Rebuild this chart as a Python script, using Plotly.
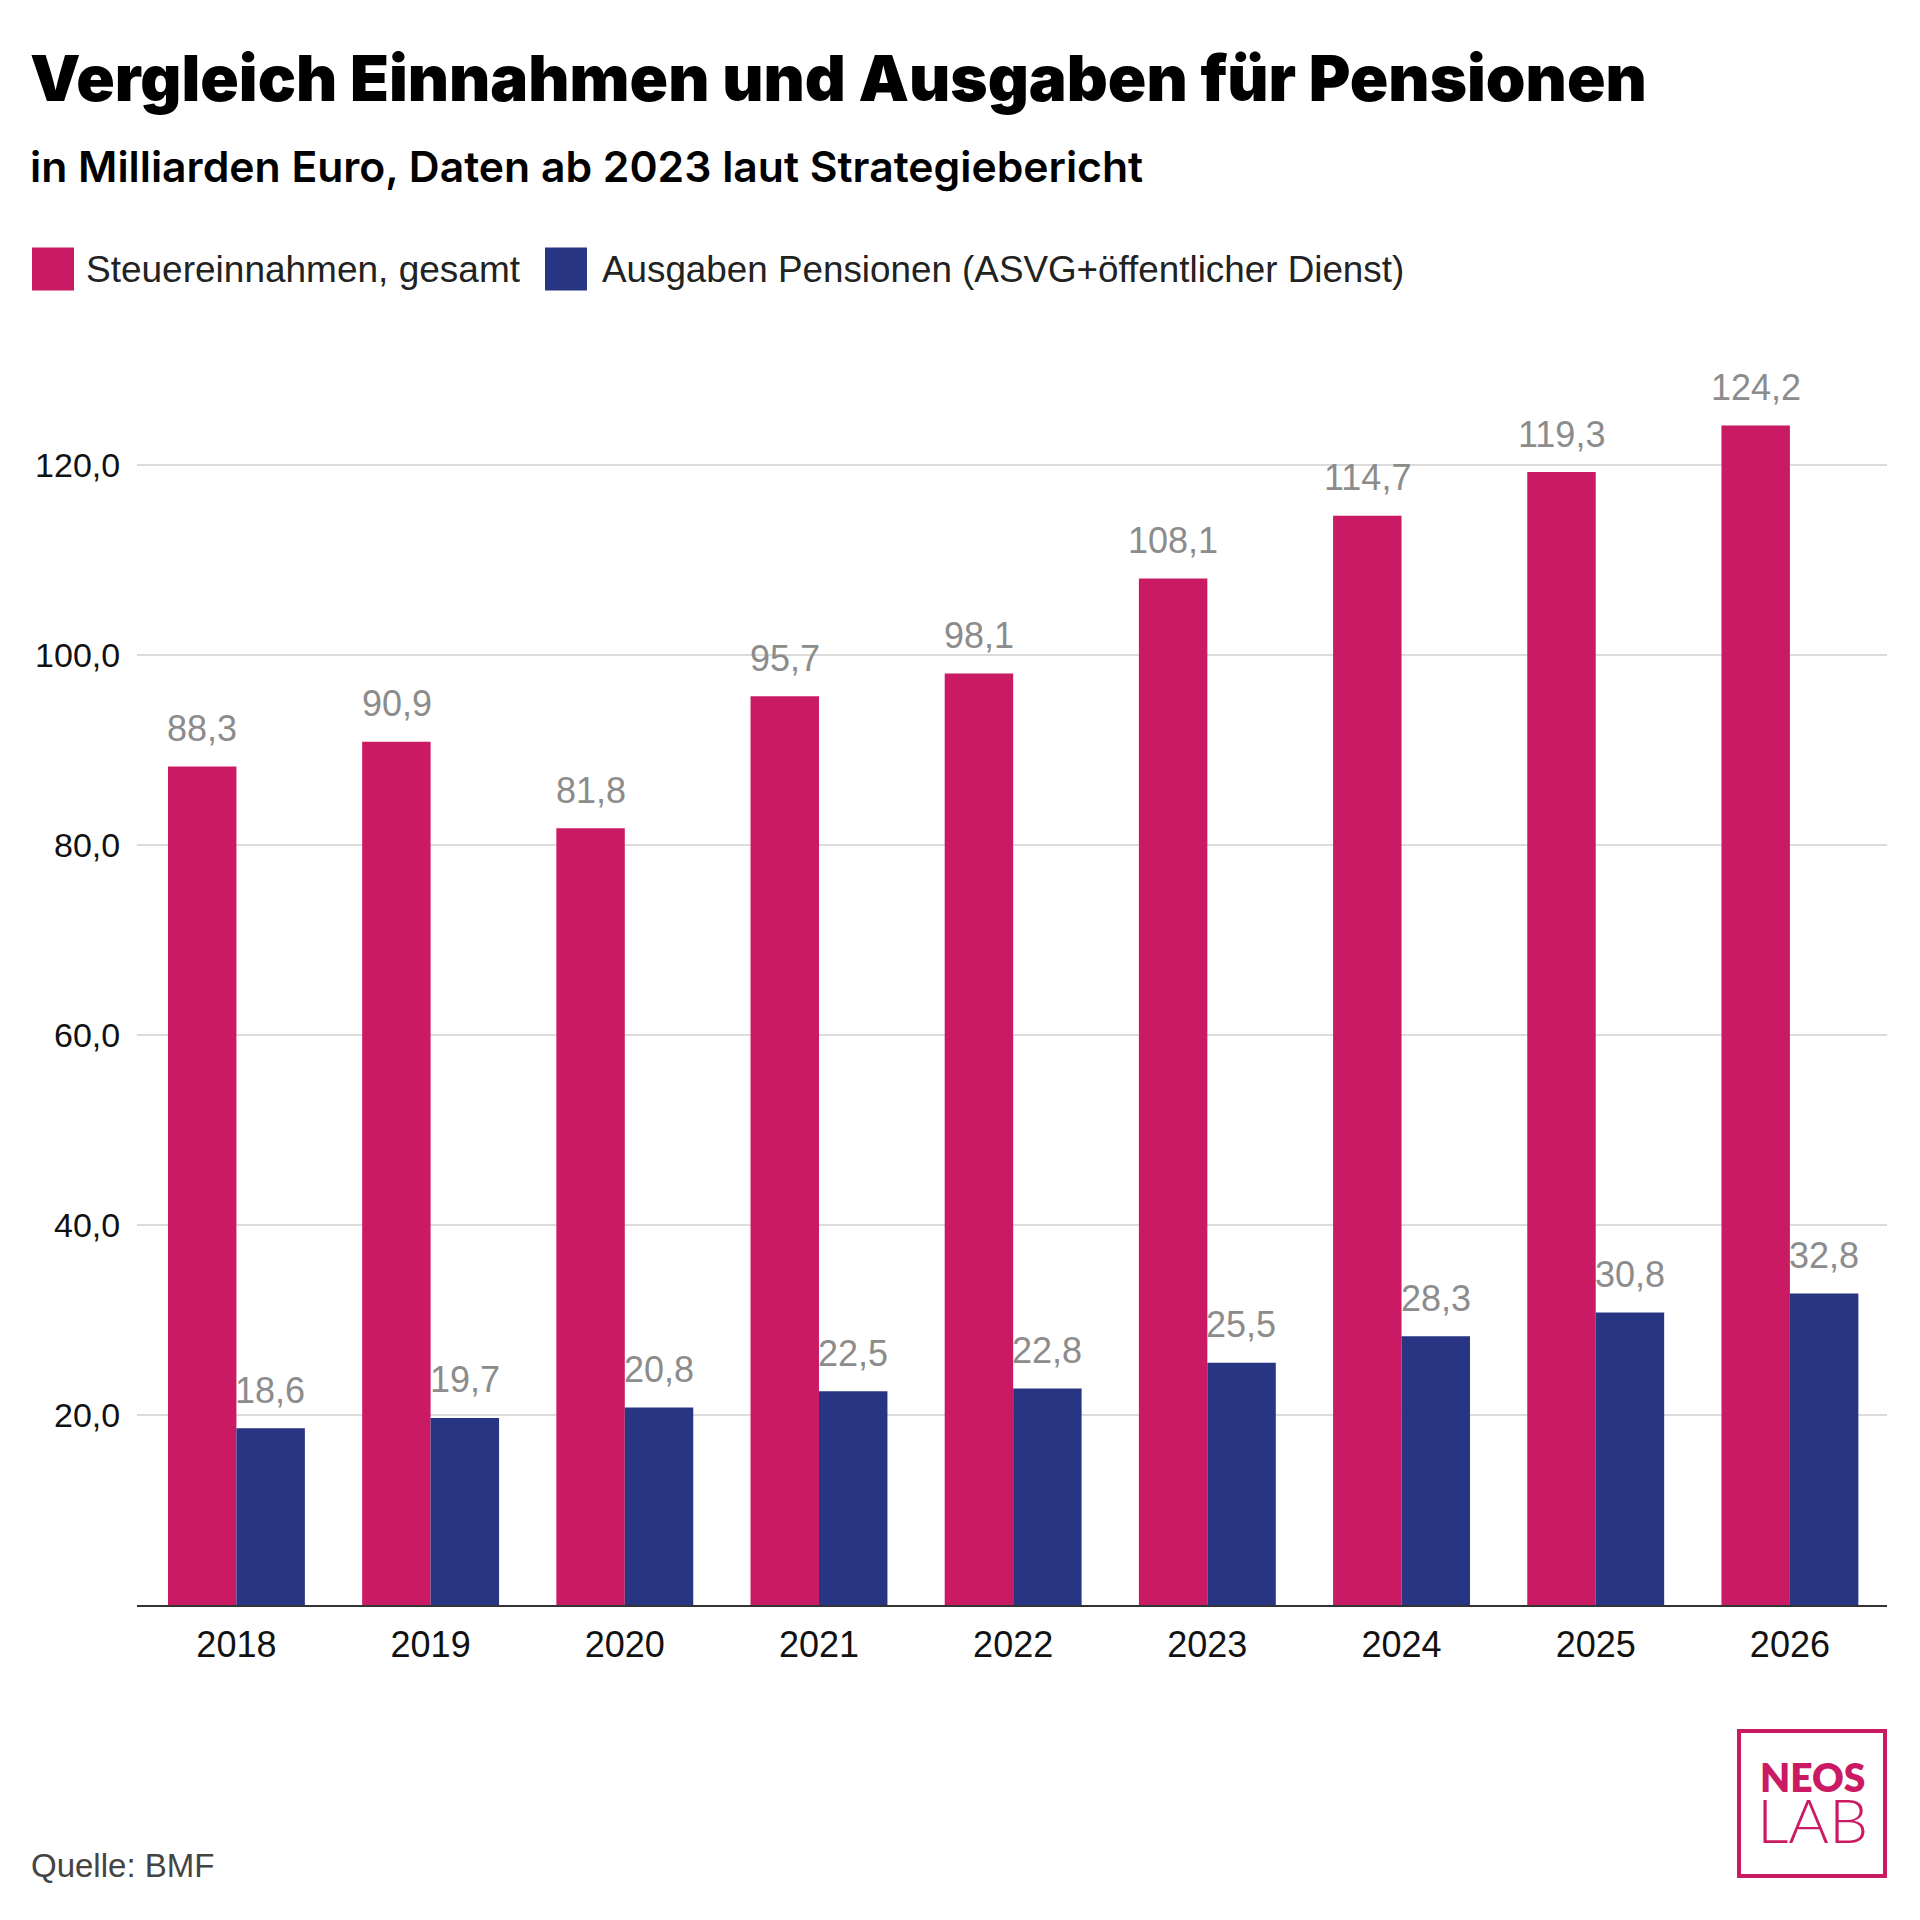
import plotly.graph_objects as go

years = ["2018", "2019", "2020", "2021", "2022", "2023", "2024", "2025", "2026"]
steuereinnahmen = [88.3, 90.9, 81.8, 95.7, 98.1, 108.1, 114.7, 119.3, 124.2]
pensionen = [18.6, 19.7, 20.8, 22.5, 22.8, 25.5, 28.3, 30.8, 32.8]
y_ticks = [20, 40, 60, 80, 100, 120]

PINK = "#CB1A64"
BLUE = "#283583"
FONT = "Liberation Sans"

# plot area in page pixels
LEFT, RIGHT, TOP, BOTTOM = 137, 1887, 322.5, 1605


def px_x(x):
    return (x - LEFT) / (RIGHT - LEFT)


def px_y(y):
    return (BOTTOM - y) / (BOTTOM - TOP)


def add_text(fig, x, y, text, size, color="#000000", weight=400, family=FONT, xanchor="left"):
    fig.add_annotation(
        xref="paper", yref="paper", x=px_x(x), y=px_y(y), text=text, showarrow=False,
        xanchor=xanchor, yanchor="middle", borderpad=0,
        font=dict(family=family, size=size, color=color, weight=weight),
    )


def add_box(fig, x0, y0, x1, y1, fill=None, line=None, width=0):
    fig.add_shape(
        type="rect", xref="paper", yref="paper",
        x0=px_x(x0), x1=px_x(x1), y0=px_y(y0), y1=px_y(y1),
        fillcolor=fill if fill else "rgba(0,0,0,0)",
        line=dict(color=line if line else "rgba(0,0,0,0)", width=width),
    )


fig = go.Figure()
for name, values, color, shift in [
    ("Steuereinnahmen, gesamt", steuereinnahmen, PINK, -34),
    ("Ausgaben Pensionen (ASVG+öffentlicher Dienst)", pensionen, BLUE, 34),
]:
    fig.add_trace(go.Bar(x=years, y=values, name=name, marker=dict(color=color, line=dict(width=0))))
    # value labels sit further off the bars than textposition="outside" allows
    # annotations on a category axis take the category index, not its name
    for i, value in enumerate(values):
        fig.add_annotation(
            x=i, y=value, xshift=shift, yshift=38, yanchor="middle", showarrow=False,
            text=f"{value:.1f}".replace(".", ","),
            font=dict(family=FONT, size=36, color="#8C8C8C"),
        )

fig.update_layout(
    width=1920, height=1920, autosize=False,
    margin=dict(l=LEFT, r=1920 - RIGHT, t=TOP, b=1920 - BOTTOM, pad=0),
    paper_bgcolor="white", plot_bgcolor="white",
    barmode="group", bargap=0.295, bargroupgap=0,
    showlegend=False, separators=",.",
    font=dict(family=FONT, color="#111111"),
)
fig.update_xaxes(
    type="category", categoryorder="array", categoryarray=years, range=[-0.512, 8.5],
    showline=True, linecolor="#333333", linewidth=2, ticks="outside", ticklen=7,
    tickcolor="rgba(0,0,0,0)", tickfont=dict(family=FONT, size=36, color="#111111"),
    showgrid=False,
)
fig.update_yaxes(
    range=[0, 135], tickvals=y_ticks, tickformat=".1f", showgrid=True, gridcolor="#DCDCDC",
    gridwidth=2, zeroline=False, ticks="outside", ticklen=9, tickcolor="rgba(0,0,0,0)",
    tickfont=dict(family=FONT, size=34, color="#111111"),
)

add_text(fig, 29, 77, "Vergleich Einnahmen und Ausgaben für Pensionen", 63.6, weight=900, family="Inter")
add_text(fig, 29, 166, "in Milliarden Euro, Daten ab 2023 laut Strategiebericht", 42.7, weight=600, family="Inter")

add_box(fig, 32, 247, 74, 290, fill=PINK)
add_text(fig, 85, 269, "Steuereinnahmen, gesamt", 37, color="#222222")
add_box(fig, 545, 247, 587, 290, fill=BLUE)
add_text(fig, 601, 269, "Ausgaben Pensionen (ASVG+öffentlicher Dienst)", 36.8, color="#222222")

add_text(fig, 30, 1866, "Quelle: BMF", 33, color="#444444")

add_box(fig, 1739, 1731, 1885, 1876, line=PINK, width=4)
add_text(
    fig, 1812, 1805, "NEOS<br><span style='font-size:62px;font-weight:300'>LAB</span>",
    39, color=PINK, weight=800, family="Lato", xanchor="center",
)

fig.write_html(
    "out.html",
    post_script="document.body.style.margin = '0';",
    config=dict(displayModeBar=False),
)
